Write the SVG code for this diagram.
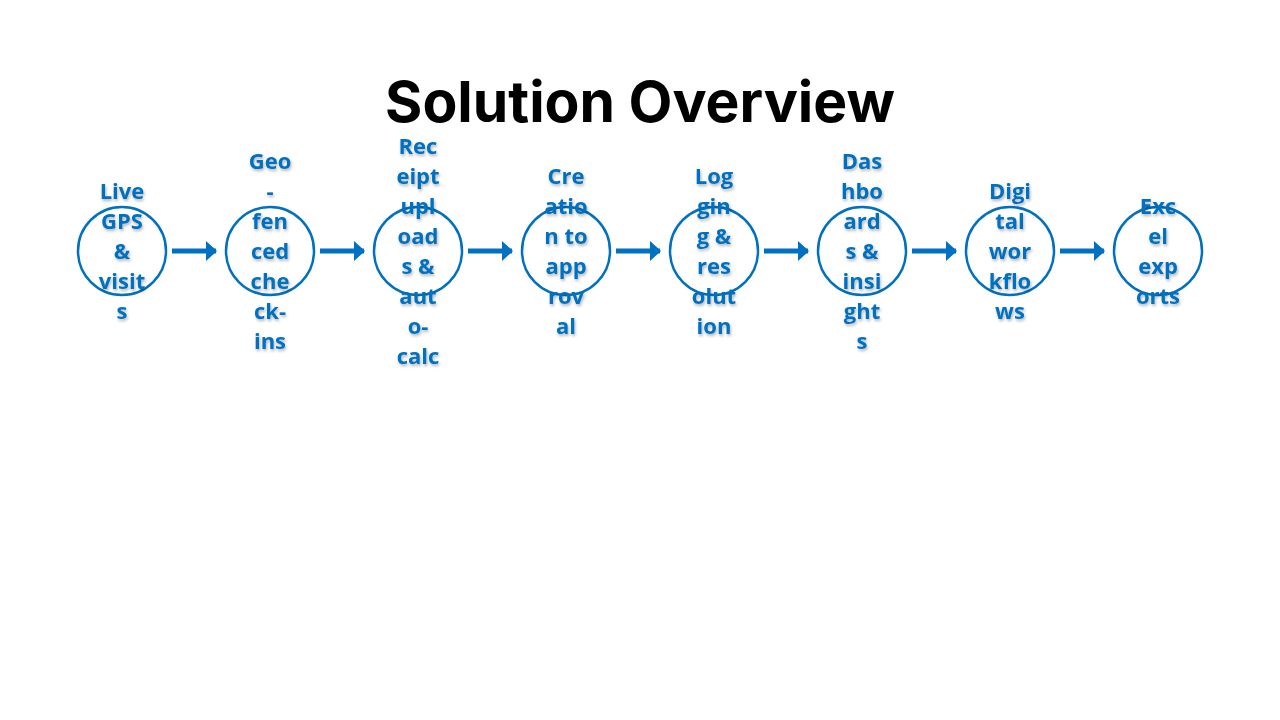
<svg xmlns="http://www.w3.org/2000/svg" width="1280" height="720" viewBox="0 0 1280 720">
<defs>
<filter id="sh" x="-20%" y="-20%" width="140%" height="140%"><feDropShadow dx="1" dy="2" stdDeviation="1.5" flood-color="#000" flood-opacity="0.3"/></filter>
<marker id="ah" markerWidth="4" markerHeight="4" refX="2" refY="2" orient="auto" markerUnits="strokeWidth"><path d="M0,0 L2.2,2 L0,4 Z" fill="#0070C0"/></marker>
</defs>
<style>
.c{fill:#fff;stroke:#0070C0;stroke-width:2.5}
.t{font-family:"Open Sans","Liberation Sans",sans-serif;font-weight:bold;font-size:22px;fill:#0070C0;text-anchor:middle;filter:url(#sh)}
.a{stroke:#0070C0;stroke-width:5;fill:none;marker-end:url(#ah)}
</style>
<rect width="1280" height="720" fill="#fff"/>
<text x="640" y="122" font-family="Inter,'Liberation Sans',sans-serif" font-weight="bold" font-size="57" text-anchor="middle" fill="#000">Solution Overview</text>
<g id="connectors">
<line class="a" x1="172" y1="251" x2="216" y2="251"/>
<line class="a" x1="320" y1="251" x2="364" y2="251"/>
<line class="a" x1="468" y1="251" x2="512" y2="251"/>
<line class="a" x1="616" y1="251" x2="660" y2="251"/>
<line class="a" x1="764" y1="251" x2="808" y2="251"/>
<line class="a" x1="912" y1="251" x2="956" y2="251"/>
<line class="a" x1="1060" y1="251" x2="1104" y2="251"/>
</g>
<g id="n1"><circle class="c" cx="122" cy="251" r="44"/><text class="t"><tspan x="122" y="199">Live</tspan><tspan x="122" y="229">GPS</tspan><tspan x="122" y="259">&amp;</tspan><tspan x="122" y="289">visit</tspan><tspan x="122" y="319">s</tspan></text></g>
<g id="n2"><circle class="c" cx="270" cy="251" r="44"/><text class="t"><tspan x="270" y="169">Geo</tspan><tspan x="270" y="199">-</tspan><tspan x="270" y="229">fen</tspan><tspan x="270" y="259">ced</tspan><tspan x="270" y="289">che</tspan><tspan x="270" y="319">ck-</tspan><tspan x="270" y="349">ins</tspan></text></g>
<g id="n3"><circle class="c" cx="418" cy="251" r="44"/><text class="t"><tspan x="418" y="154">Rec</tspan><tspan x="418" y="184">eipt</tspan><tspan x="418" y="214">upl</tspan><tspan x="418" y="244">oad</tspan><tspan x="418" y="274">s &amp;</tspan><tspan x="418" y="304">aut</tspan><tspan x="418" y="334">o-</tspan><tspan x="418" y="364">calc</tspan></text></g>
<g id="n4"><circle class="c" cx="566" cy="251" r="44"/><text class="t"><tspan x="566" y="184">Cre</tspan><tspan x="566" y="214">atio</tspan><tspan x="566" y="244">n to</tspan><tspan x="566" y="274">app</tspan><tspan x="566" y="304">rov</tspan><tspan x="566" y="334">al</tspan></text></g>
<g id="n5"><circle class="c" cx="714" cy="251" r="44"/><text class="t"><tspan x="714" y="184">Log</tspan><tspan x="714" y="214">gin</tspan><tspan x="714" y="244">g &amp;</tspan><tspan x="714" y="274">res</tspan><tspan x="714" y="304">olut</tspan><tspan x="714" y="334">ion</tspan></text></g>
<g id="n6"><circle class="c" cx="862" cy="251" r="44"/><text class="t"><tspan x="862" y="169">Das</tspan><tspan x="862" y="199">hbo</tspan><tspan x="862" y="229">ard</tspan><tspan x="862" y="259">s &amp;</tspan><tspan x="862" y="289">insi</tspan><tspan x="862" y="319">ght</tspan><tspan x="862" y="349">s</tspan></text></g>
<g id="n7"><circle class="c" cx="1010" cy="251" r="44"/><text class="t"><tspan x="1010" y="199">Digi</tspan><tspan x="1010" y="229">tal</tspan><tspan x="1010" y="259">wor</tspan><tspan x="1010" y="289">kflo</tspan><tspan x="1010" y="319">ws</tspan></text></g>
<g id="n8"><circle class="c" cx="1158" cy="251" r="44"/><text class="t"><tspan x="1158" y="214">Exc</tspan><tspan x="1158" y="244">el</tspan><tspan x="1158" y="274">exp</tspan><tspan x="1158" y="304">orts</tspan></text></g>
</svg>
